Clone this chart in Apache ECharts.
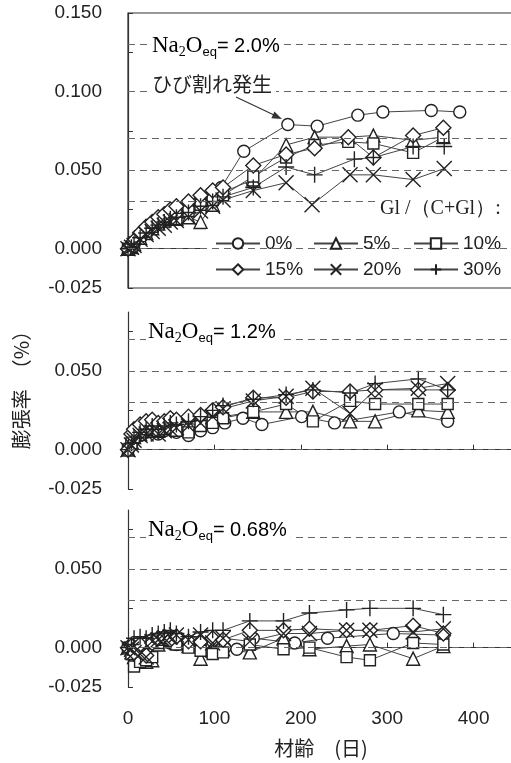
<!DOCTYPE html>
<html>
<head>
<meta charset="utf-8">
<script src="https://cdn.jsdelivr.net/npm/echarts@6/dist/echarts.min.js"></script>
<style>
html,body{margin:0;padding:0;background:#fff;}
#main{width:511px;height:763px;}
</style>
</head>
<body>
<div id="main"></div>
<script>
// 凡例名 (Gl/(C+Gl))
var names=['0%','5%','10%','15%','20%','30%'];

// Na2Oeq = 2.0%  [材齢(日), 膨張率(%)]
var top0=[[0,0],[4,.002],[7,.004],[14,.008],[21,.012],[28,.015],[35,.018],[42,.021],[49,.023],[56,.025],[70,.028],[84,.033],[98,.035],[108,.039],[134,.062],[185,.079],[219,.078],[266,.085],[295,.087],[351,.088],[384,.087]];
var top5=[[0,0],[4,.001],[7,.003],[14,.007],[21,.010],[28,.013],[35,.016],[42,.018],[49,.019],[56,.019],[70,.020],[84,.017],[98,.028],[110,.036],[145,.044],[183,.066],[216,.071],[255,.071],[284,.072],[330,.069],[365,.071]];
var top10=[[0,0],[4,.001],[7,.004],[14,.008],[21,.011],[28,.014],[35,.017],[42,.019],[49,.020],[56,.019],[70,.024],[84,.028],[98,.031],[110,.034],[145,.046],[183,.058],[216,.066],[255,.068],[284,.067],[330,.061],[365,.071]];
var top15=[[0,0],[4,.002],[7,.005],[14,.010],[21,.014],[28,.017],[35,.020],[42,.022],[49,.025],[56,.027],[70,.030],[84,.034],[98,.037],[110,.039],[145,.053],[183,.060],[216,.064],[255,.071],[284,.058],[330,.072],[365,.077]];
var top20=[[0,0],[4,.001],[7,.002],[14,.006],[21,.009],[28,.011],[35,.013],[42,.015],[49,.017],[56,.018],[70,.020],[84,.024],[98,.027],[110,.031],[145,.037],[183,.042],[213,.028],[257,.047],[284,.047],[330,.044],[366,.051]];
var top30=[[0,0],[4,.001],[7,.003],[14,.007],[21,.010],[28,.013],[35,.015],[42,.017],[49,.019],[56,.020],[70,.023],[84,.027],[98,.030],[110,.033],[145,.039],[183,.052],[216,.047],[262,.057],[284,.058],[330,.065],[366,.065]];

// Na2Oeq = 1.2%
var mid0=[[0,0],[4,.004],[7,.007],[14,.009],[21,.011],[28,.012],[35,.010],[42,.012],[49,.013],[56,.011],[70,.009],[84,.012],[98,.014],[112,.017],[133,.020],[155,.016],[201,.021],[239,.017],[314,.024],[370,.018]];
var mid5=[[0,0],[4,.005],[7,.008],[14,.010],[21,.012],[28,.013],[35,.012],[42,.014],[49,.015],[56,.013],[70,.016],[84,.018],[98,.020],[110,.021],[145,.024],[183,.024],[214,.024],[257,.018],[286,.018],[336,.025],[370,.024]];
var mid10=[[0,0],[4,.004],[7,.008],[14,.011],[21,.013],[28,.014],[35,.012],[42,.013],[49,.014],[56,.012],[70,.011],[84,.015],[98,.017],[110,.020],[145,.024],[183,.029],[214,.018],[257,.031],[286,.029],[336,.029],[370,.029]];
var mid15=[[0,0],[4,.010],[7,.013],[14,.016],[21,.018],[28,.019],[35,.017],[42,.018],[49,.020],[56,.019],[70,.021],[84,.022],[98,.025],[110,.027],[145,.033],[183,.033],[214,.037],[257,.037],[286,.038],[336,.038],[370,.038]];
var mid20=[[0,0],[4,.003],[7,.006],[14,.009],[21,.010],[28,.011],[35,.010],[42,.012],[49,.013],[56,.014],[70,.015],[84,.017],[98,.021],[110,.026],[145,.031],[183,.034],[214,.039],[257,.023],[286,.038],[336,.039],[370,.042]];
var mid30=[[0,0],[4,.004],[7,.008],[14,.011],[21,.013],[28,.015],[35,.013],[42,.015],[49,.017],[56,.016],[70,.018],[84,.021],[98,.025],[110,.028],[145,.032],[183,.035],[214,.038],[257,.036],[286,.042],[336,.045],[370,.038]];

// Na2Oeq = 0.68%
var bot0=[[0,0],[4,.000],[7,-.002],[14,.001],[21,.003],[28,.005],[35,.004],[42,.006],[49,.003],[56,.002],[70,.003],[84,.000],[98,.004],[112,.000],[126,-.001],[145,.006],[193,.003],[231,.006],[307,.009],[365,.008]];
var bot5=[[0,0],[4,-.003],[7,-.006],[14,-.008],[21,-.009],[28,-.008],[35,.002],[42,.004],[49,.005],[56,.003],[70,.001],[84,-.007],[98,-.002],[110,-.001],[141,-.003],[180,.006],[210,-.001],[253,.001],[280,.002],[330,-.007],[365,.001]];
var bot10=[[0,0],[4,-.004],[7,-.012],[14,-.009],[21,-.008],[28,-.006],[35,.003],[42,.005],[49,.006],[56,.002],[70,.000],[84,-.002],[98,-.004],[110,-.003],[141,.002],[180,-.001],[210,.000],[253,-.006],[280,-.008],[330,.003],[365,.002]];
var bot15=[[0,0],[4,.001],[7,-.003],[14,.002],[21,-.005],[28,.003],[35,.006],[42,.007],[49,.005],[56,.007],[70,.004],[84,.004],[98,.006],[110,.005],[141,.011],[180,.011],[210,.012],[253,.011],[280,.011],[330,.014],[365,.009]];
var bot20=[[0,0],[4,-.001],[7,-.003],[14,-.004],[21,-.006],[28,.004],[35,.005],[42,.006],[49,.007],[56,.008],[70,.005],[84,.008],[98,.003],[110,.006],[141,.004],[180,.009],[210,.009],[253,.011],[280,.011],[330,.010],[365,.012]];
var bot30=[[0,0],[4,.002],[7,.006],[14,.007],[21,.006],[28,.008],[35,.009],[42,.010],[49,.011],[56,.009],[70,.007],[84,.010],[98,.011],[110,.011],[141,.017],[180,.017],[210,.022],[253,.024],[280,.025],[330,.025],[365,.021]];

var panelData=[[top0,top5,top10,top15,top20,top30],[mid0,mid5,mid10,mid15,mid20,mid30],[bot0,bot5,bot10,bot15,bot20,bot30]];
var panelNa=['2.0%','1.2%','0.68%'];
var yMaxArr=[0.150,0.0875,0.0875];
var gridLevels=[[0,0.025,0.05,0.075,0.1,0.125],[0,0.025,0.05,0.075],[0,0.025,0.05,0.075]];

var symbols=['circle','triangle','rect','diamond','path://M0,0L10,10M10,0L0,10','path://M5,0L5,10M0,5L10,5'];
var symbolSizes=[12,13,11,15,15,16];

var SANS='"Liberation Sans", Arial, sans-serif';
var JP='"Noto Sans CJK JP", sans-serif';
var SERIF='"Liberation Serif", serif';
var TXT='#222';
var LINE='#333';

var myChart=echarts.init(document.getElementById('main'));

var grids=[
	{left:128,top:13,width:432,height:275,outerBoundsMode:'none',show:true,borderColor:LINE,borderWidth:1.2,backgroundColor:'transparent'},
	{left:128,top:312,width:432,height:177,outerBoundsMode:'none'},
	{left:128,top:510,width:432,height:177,outerBoundsMode:'none'}
];

var xAxes=[],yAxes=[],series=[];
for(var p=0;p<3;p++){
	xAxes.push({
		type:'value',gridIndex:p,min:0,max:500,interval:100,
		axisLine:{lineStyle:{color:LINE,width:1.2}},
		axisTick:{inside:true,length:5,lineStyle:{color:LINE}},
		axisLabel:{show:p==2,fontSize:19,color:TXT,fontFamily:SANS,margin:22},
		splitLine:{show:false}
	});
	yAxes.push({
		type:'value',gridIndex:p,min:-0.025,max:yMaxArr[p],interval:0.025,
		axisLine:{onZero:false,lineStyle:{color:LINE,width:1.2}},
		axisTick:{inside:true,length:5,lineStyle:{color:LINE}},
		axisLabel:{
			fontSize:19,color:TXT,fontFamily:SANS,margin:26,showMaxLabel:p==0,
			formatter:function(v){
				var k=Math.round(v*1000);
				if(k%50==0||k==-25){return (k/1000).toFixed(3);}
				return '';
			}
		},
		splitLine:{show:false}
	});
	for(var i=0;i<6;i++){
		var s={
			type:'line',name:names[i],xAxisIndex:p,yAxisIndex:p,
			data:panelData[p][i],
			symbol:symbols[i],symbolSize:symbolSizes[i],showAllSymbol:true,
			lineStyle:{color:'#444',width:1},
			itemStyle:{color:'#fff',borderColor:'#222',borderWidth:1.4},
			emphasis:{disabled:true},
			z:3
		};
		if(i==0){
			// 破線の目盛り線
			s.markLine={
				silent:true,symbol:'none',label:{show:false},animation:false,
				lineStyle:{type:[7,5],color:'#666',width:1.2},
				data:gridLevels[p].map(function(v){return {yAxis:v};})
			};
		}
		series.push(s);
	}
}

// 凡例は1項目ずつ配置
var legendX=[215,313,413];
var legendY=[234,260];
var legends=names.map(function(n,i){
	return {
		data:[n],left:legendX[i%3],top:legendY[Math.floor(i/3)],
		padding:0,itemWidth:44,itemHeight:13,selectedMode:false,
		textStyle:{fontSize:19,color:TXT,fontFamily:SANS},
		z:6
	};
});

function naText(pct){
	return {
		text:'{a|Na}{s|2}{a|O}{e|eq}{b|= '+pct+'}',
		backgroundColor:'#fff',padding:[1,4,1,2],
		verticalAlign:'middle',
		rich:{
			a:{fontFamily:SERIF,fontSize:23,color:TXT,lineHeight:26,verticalAlign:'middle'},
			s:{fontFamily:SERIF,fontSize:14,color:TXT,lineHeight:14,verticalAlign:'bottom'},
			e:{fontFamily:SANS,fontSize:13,color:TXT,lineHeight:13,verticalAlign:'bottom'},
			b:{fontFamily:SANS,fontSize:20,color:TXT,lineHeight:26,verticalAlign:'middle'}
		}
	};
}

var graphics=[
	{type:'rect',shape:{x:206,y:229,width:320,height:54},style:{fill:'#fff'},z:4},
	{type:'text',x:150,y:46,z:10,style:naText(panelNa[0])},
	{type:'text',x:146,y:332,z:10,style:naText(panelNa[1])},
	{type:'text',x:146,y:530,z:10,style:naText(panelNa[2])},
	{type:'text',x:150,y:84,z:10,style:{text:'ひび割れ発生',font:'20px '+JP,fill:TXT,verticalAlign:'middle',backgroundColor:'#fff',padding:[1,4,1,2]}},
	{type:'line',z:10,shape:{x1:236,y1:97,x2:274,y2:115},style:{stroke:'#333',lineWidth:1.2}},
	{type:'polygon',z:10,shape:{points:[[282,119],[271.4,118.2],[274.4,111.6]]},style:{fill:'#333'}},
	{type:'text',x:376,y:209,z:10,style:{text:'Gl /（C+Gl）:',font:'20px '+SERIF,fill:TXT,verticalAlign:'middle',backgroundColor:'#fff',padding:[1,10,1,4]}},
	{type:'text',x:21,y:385,rotation:Math.PI/2,z:10,style:{text:'膨張率　（%）',font:'20px '+JP,fill:TXT,align:'center',verticalAlign:'middle'}},
	{type:'text',x:321,y:748,z:10,style:{text:'材齢　(日)',font:'20px '+JP,fill:TXT,align:'center',verticalAlign:'middle'}}
];

var option={
	animation:false,
	backgroundColor:'#fff',
	grid:grids,
	xAxis:xAxes,
	yAxis:yAxes,
	legend:legends,
	graphic:graphics,
	series:series
};

myChart.setOption(option);
</script>
</body>
</html>
